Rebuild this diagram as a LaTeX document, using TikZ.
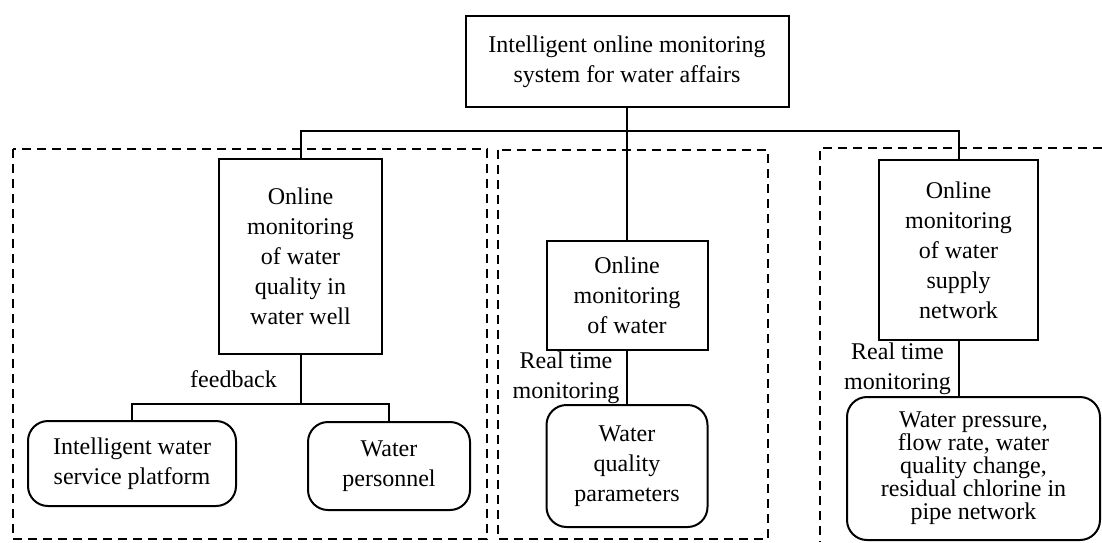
\documentclass[tikz,border=0pt]{standalone}
\usepackage{fontspec}
\setmainfont{Liberation Serif}
\usetikzlibrary{positioning}

\begin{document}
\begin{tikzpicture}[x=0.5pt,y=-0.5pt,line width=1pt,
    box/.style={draw,align=center,inner sep=0pt,font=\fontsize{12}{15}\selectfont},
    roundbox/.style={box,rounded corners=10pt},
    group/.style={draw,dash pattern=on 4.5pt off 3pt},
    tag/.style={align=center,font=\fontsize{12}{15}\selectfont}]
    \useasboundingbox (0,0) rectangle (1102,542);

    % Dashed groups
    \draw[group] (13,149) rectangle (487,539);
    \draw[group] (498,150) rectangle (768,539);
    \draw[group] (1102,148) -- (820,148) -- (820,542);

    % Top box
    \node[box,minimum width=161.5pt,minimum height=45.5pt] (sys) at (627,61.5)
        {Intelligent online monitoring\\system for water affairs};

    % Second level
    \node[box,minimum width=81.5pt,minimum height=97.5pt] (well) at (300.5,256.5)
        {Online\\monitoring\\of water\\quality in\\water well};
    \node[box,minimum width=80.5pt,minimum height=54.5pt] (qual) at (627,295.5)
        {Online\\monitoring\\of water};
    \node[box,minimum width=79.5pt,minimum height=90pt] (net) at (958.5,250)
        {Online\\monitoring\\of water\\supply\\network};

    % Bottom level
    \node[roundbox,minimum width=104pt,minimum height=42.5pt] (platform) at (132,463.5)
        {Intelligent water\\service platform};
    \node[roundbox,minimum width=81pt,minimum height=44pt] (staff) at (389,466)
        {Water\\personnel};
    \node[roundbox,minimum width=80.5pt,minimum height=61pt] (param) at (627,466)
        {Water\\quality\\parameters};
    \node[roundbox,minimum width=126.5pt,minimum height=71.5pt,
        font=\fontsize{12}{11.5}\selectfont] (pipe) at (973.5,468.5)
        {Water pressure,\\flow rate, water\\quality change,\\residual chlorine in\\pipe network};

    % Tree lines
    \coordinate (hub) at (627,131);
    \draw (sys.south) -- (hub);
    \draw (well.north) |- (hub) -| (net.north);
    \draw (hub) -- (qual.north);

    % Feedback branch
    \path (well.south) ++(0,49) coordinate (fork);
    \draw (well.south) -- node[tag,left=8pt] {feedback} (fork);
    \draw (platform.north) |- (fork) -| (staff.north);

    % Real time monitoring
    \draw (qual.south) -- node[tag,left] {Real time\\monitoring} (param.north);
    \draw (net.south) -- node[tag,left] {Real time\\monitoring} (net.south |- pipe.north);
\end{tikzpicture}
\end{document}
